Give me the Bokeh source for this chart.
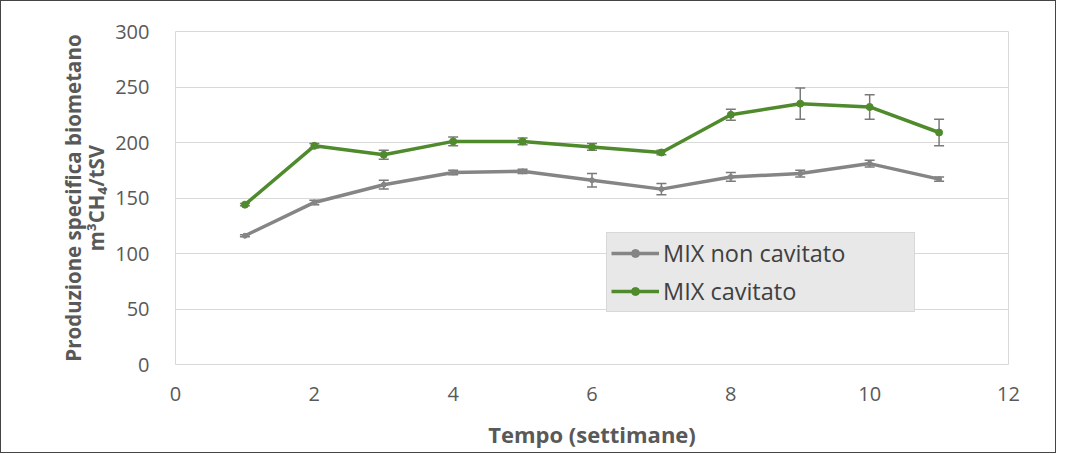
from bokeh.plotting import figure
from bokeh.models import ColumnDataSource, Whisker, TeeHead, Legend, LegendItem, FixedTicker
from bokeh.embed import file_html
from bokeh.resources import INLINE

# Data
weeks = [1, 2, 3, 4, 5, 6, 7, 8, 9, 10, 11]
non_cav = [116, 146, 162, 173, 174, 166, 158, 169, 172, 181, 167]
non_cav_err = [1, 2, 4, 2, 2, 6, 5, 4, 3, 3, 2]
cav = [144, 197, 189, 201, 201, 196, 191, 225, 235, 232, 209]
cav_err = [1, 2, 4, 4, 3, 3, 2, 5, 14, 11, 12]
x_ticks = [0, 2, 4, 6, 8, 10, 12]
y_ticks = [0, 50, 100, 150, 200, 250, 300]

FONT = "Open Sans"
TXT = "#595959"
GREEN = "#4f8a2c"
GREY = "#858585"
ERR = "#7a7a7a"

src_n = ColumnDataSource(dict(x=weeks, y=non_cav,
                              lo=[v - e for v, e in zip(non_cav, non_cav_err)],
                              hi=[v + e for v, e in zip(non_cav, non_cav_err)]))
src_c = ColumnDataSource(dict(x=weeks, y=cav,
                              lo=[v - e for v, e in zip(cav, cav_err)],
                              hi=[v + e for v, e in zip(cav, cav_err)]))

p = figure(width=1056, height=453, x_range=(0, 12), y_range=(0, 300),
           output_backend="svg", toolbar_location=None,
           min_border_left=174, min_border_right=49, min_border_top=30, min_border_bottom=90)
p.styles = {"border": "1px solid #444"}

p.outline_line_color = "#d9d9d9"
p.outline_line_width = 1
p.xgrid.grid_line_color = None
p.ygrid.grid_line_color = "#d9d9d9"
p.ygrid.grid_line_width = 1

p.xaxis.ticker = FixedTicker(ticks=x_ticks)
p.yaxis.ticker = FixedTicker(ticks=y_ticks)
for ax in (p.xaxis, p.yaxis):
    ax.axis_line_color = None
    ax.major_tick_line_color = None
    ax.minor_tick_line_color = None
    ax.major_label_text_font = FONT
    ax.major_label_text_font_size = "20px"
    ax.major_label_text_color = TXT
    ax.axis_label_text_font = FONT
    ax.axis_label_text_font_style = "bold"
    ax.axis_label_text_color = TXT

p.xaxis.major_label_standoff = 16
p.yaxis.major_label_standoff = 20
p.xaxis.axis_label = "Tempo (settimane)"
p.xaxis.axis_label_text_font_size = "22px"
p.xaxis.axis_label_standoff = 15
p.yaxis.axis_label = "Produzione specifica biometano\nm³CH₄/tSV"
p.yaxis.axis_label_text_font_size = "20.5px"
p.yaxis.axis_label_text_line_height = 0.82
p.yaxis.axis_label_standoff = 2

# Error bars
for src in (src_n, src_c):
    w = Whisker(source=src, base="x", lower="lo", upper="hi",
                line_color=ERR, line_width=1.5,
                upper_head=TeeHead(size=10, line_color=ERR, line_width=1.5),
                lower_head=TeeHead(size=10, line_color=ERR, line_width=1.5))
    p.add_layout(w)

ln = p.line("x", "y", source=src_n, line_color=GREY, line_width=3.5)
mn = p.scatter("x", "y", source=src_n, size=5, marker="circle", color=GREY)
lc = p.line("x", "y", source=src_c, line_color=GREEN, line_width=3.5)
mc = p.scatter("x", "y", source=src_c, size=7, marker="circle", color=GREEN)

legend = Legend(items=[LegendItem(label="MIX non cavitato", renderers=[ln, mn]),
                       LegendItem(label="MIX cavitato", renderers=[lc, mc])],
                location=(431, 52), orientation="vertical",
                background_fill_color="#e8e8e8", background_fill_alpha=1,
                border_line_color="#c8c8c8", border_line_width=1,
                label_text_font=FONT, label_text_font_size="23.5px",
                label_text_color="#404040", glyph_width=48, glyph_height=20,
                label_height=20, label_standoff=4, spacing=6,
                padding=4, margin=0, label_width=247)
p.add_layout(legend)

open("out.html", "w").write(file_html(p, INLINE))
